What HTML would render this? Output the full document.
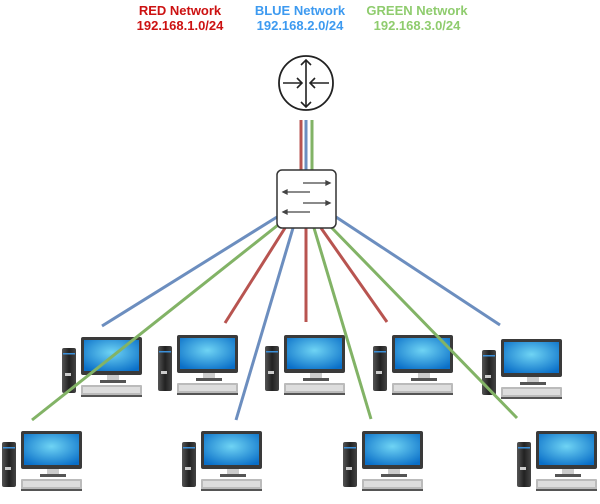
<!DOCTYPE html>
<html><head><style>
html,body{margin:0;padding:0;background:#fff;width:600px;height:504px;overflow:hidden}
.t{position:absolute;font-family:"Liberation Sans",sans-serif;font-weight:bold;font-size:13px;text-align:center;line-height:15px;width:130px}
</style></head><body>
<div class="t" style="left:115px;top:3px;color:#cc1111">RED Network<br>192.168.1.0/24</div>
<div class="t" style="left:235px;top:3px;color:#3d9af0">BLUE Network<br>192.168.2.0/24</div>
<div class="t" style="left:352px;top:3px;color:#8fcc6e">GREEN Network<br>192.168.3.0/24</div>
<svg width="600" height="504" style="position:absolute;left:0;top:0">
<defs>
<radialGradient id="sc" cx="0.5" cy="0.4" r="0.7"><stop offset="0" stop-color="#6fd4f4"/><stop offset="1" stop-color="#0a6fc8"/></radialGradient>
<linearGradient id="tw" x1="0" x2="1"><stop offset="0" stop-color="#555"/><stop offset="0.5" stop-color="#222"/><stop offset="1" stop-color="#444"/></linearGradient>
<g id="pc">
<rect x="0" y="11" width="14" height="45" rx="2" fill="url(#tw)"/>
<rect x="1" y="16" width="12" height="1.5" fill="#3b8fd8"/>
<rect x="3" y="36" width="6" height="3" fill="#ccc"/>
<rect x="19" y="0" width="61" height="38" rx="2" fill="#3a3a3a"/>
<rect x="22" y="3" width="55" height="31" fill="url(#sc)"/>
<rect x="45" y="38" width="12" height="5" fill="#ccc"/>
<rect x="38" y="43" width="26" height="3" fill="#555"/>
<rect x="19" y="48" width="61" height="11" rx="1" fill="#bbb"/>
<rect x="21" y="50" width="57" height="6" fill="#ddd"/>
<rect x="19" y="58" width="61" height="2" fill="#555"/>
</g>
</defs>
<use href="#pc" x="62" y="337"/>
<use href="#pc" x="158" y="335"/>
<use href="#pc" x="265" y="335"/>
<use href="#pc" x="373" y="335"/>
<use href="#pc" x="482" y="339"/>
<use href="#pc" x="2" y="431"/>
<use href="#pc" x="182" y="431"/>
<use href="#pc" x="343" y="431"/>
<use href="#pc" x="517" y="431"/>
<g stroke-width="3" fill="none">
<line x1="301" y1="120" x2="301" y2="170" stroke="#b85450"/>
<line x1="306" y1="120" x2="306" y2="170" stroke="#6c8ebf"/>
<line x1="312" y1="120" x2="312" y2="170" stroke="#82b366"/>
<line x1="277" y1="217" x2="102" y2="326" stroke="#6c8ebf"/>
<line x1="278" y1="225" x2="32" y2="420" stroke="#82b366"/>
<line x1="285" y1="228" x2="225" y2="323" stroke="#b85450"/>
<line x1="293" y1="228" x2="236" y2="420" stroke="#6c8ebf"/>
<line x1="306" y1="228" x2="306" y2="322" stroke="#b85450"/>
<line x1="314" y1="228" x2="371" y2="419" stroke="#82b366"/>
<line x1="321" y1="228" x2="387" y2="322" stroke="#b85450"/>
<line x1="330" y1="226" x2="517" y2="418" stroke="#82b366"/>
<line x1="336" y1="217" x2="500" y2="325" stroke="#6c8ebf"/>
</g>
<rect x="277" y="170" width="59" height="58" rx="5" fill="#fff" stroke="#333" stroke-width="1.5"/>
<g stroke="#444" stroke-width="1.3" fill="#444">
<line x1="303" y1="183" x2="328" y2="183"/><path d="M330 183 l-4 -2 v4z"/>
<line x1="285" y1="192" x2="310" y2="192"/><path d="M283 192 l4 -2 v4z"/>
<line x1="303" y1="203" x2="328" y2="203"/><path d="M330 203 l-4 -2 v4z"/>
<line x1="285" y1="212" x2="310" y2="212"/><path d="M283 212 l4 -2 v4z"/>
</g>
<circle cx="306" cy="83" r="27" fill="#fff" stroke="#222" stroke-width="1.8"/>
<g stroke="#222" stroke-width="1.6" fill="none">
<line x1="306" y1="60" x2="306" y2="107"/>
<path d="M301 65 l5 -5 l5 5"/><path d="M301 102 l5 5 l5 -5"/>
<line x1="283" y1="83" x2="302" y2="83"/><path d="M297 78 l5 5 l-5 5"/>
<line x1="310" y1="83" x2="329" y2="83"/><path d="M315 78 l-5 5 l5 5"/>
</g>
</svg>
</body></html>
